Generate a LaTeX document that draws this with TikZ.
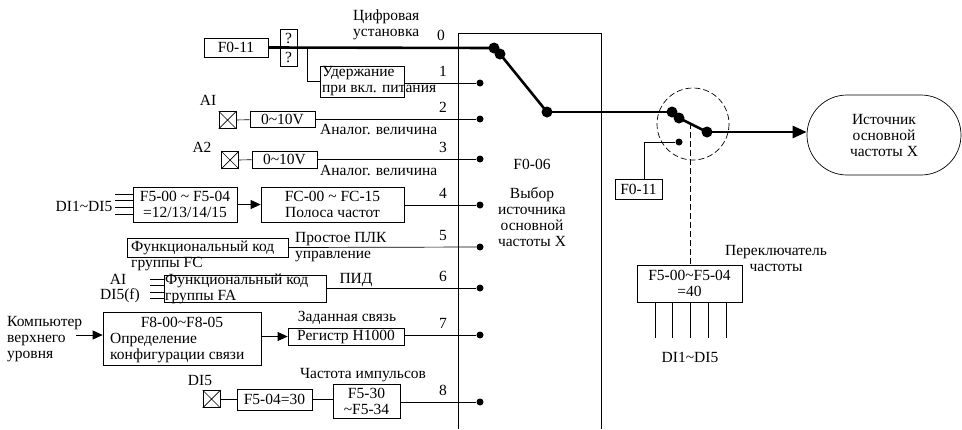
\documentclass[tikz,border=0pt]{standalone}
\usepackage{fontspec}
\setmainfont{Liberation Serif}
\usetikzlibrary{arrows.meta}
\newcommand{\tl}{\textasciitilde}
\begin{document}
\begin{tikzpicture}[x=1pt,y=-1pt,
  every node/.style={font=\fontsize{15.5}{16}\selectfont, inner sep=0pt},
  bx/.style={draw, line width=0.7pt, minimum width=#1},
  ln/.style={line width=0.7pt},
  thk/.style={line width=2.6pt},
  term/.style={circle, fill, minimum size=7pt},
  bigdot/.style={circle, fill, minimum size=11pt},
  cr/.style={draw, line width=0.7pt, minimum width=17pt, minimum height=17pt},
  arr/.style={ln, -{Triangle[length=10pt,width=9pt]}},
  lbl/.style={align=left, anchor=west}
]
\useasboundingbox (0,0) rectangle (962,429);
% main box
\draw[ln] (458,429) -- (458,33) -- (601,33) -- (601,429);
% terminals
\foreach \n/\y in {1/83,2/119,3/159,4/205,5/247,6/288,7/335,8/402}{
  \node[term] (t\n) at (480,\y) {};
  \node at (443,\y-12) {\n};
}
\node at (441,35) {0};
% row 0
\node[bx=64pt, minimum height=19pt] (f011a) at (236,47.5) {F0-11};
\node[bx=17pt, minimum height=19pt] (q1) at (288.5,38.5) {?};
\node[bx=17pt, minimum height=18pt] (q2) at (288.5,57) {?};
\node[lbl] (dig) at (353,25) {Цифровая\\установка};
\node[bigdot] (s0) at (494,48) {};
\node[bigdot] (s0b) at (500,54) {};
\node[bigdot] (s1) at (547,112) {};
\draw[thk] (f011a.east) -- (s0.center);
\draw[thk] (s0b.center) -- (s1.center);
% row 1
\coordinate (br) at (307,48);
\node[bx=84pt, minimum height=31pt] (hold) at (362,81.5) {};
\node[lbl] (holdt) at (322,81.5) {Удержание\\при вкл. питания};
\draw[ln] (br) |- (hold.west);
\draw[ln] (hold.east |- t1) -- (t1);
% row 2
\node at (208,100) (ai1l) {AI};
\node[cr] (ai1) at (227.5,120) {};
\draw[ln] (ai1.north west) -- (ai1.south east) (ai1.north east) -- (ai1.south west);
\node[bx=65pt, minimum height=16pt] (v1) at (282.5,119.5) {0\tl10V};
\draw[ln] (ai1) -- (v1);
\draw[ln] (v1.east |- t2) -- (t2);
\node[lbl] (an1) at (320,129) {Аналог. величина};
% row 3
\node at (202,147) (a2l) {A2};
\node[cr] (ai2) at (230,160) {};
\draw[ln] (ai2.north west) -- (ai2.south east) (ai2.north east) -- (ai2.south west);
\node[bx=65pt, minimum height=17pt] (v2) at (284.5,159.5) {0\tl10V};
\draw[ln] (ai2) -- (v2);
\draw[ln] (v2.east |- t3) -- (t3);
\node[lbl] (an2) at (320,170) {Аналог. величина};
% row 4
\node (di1) at (84,206) {DI1\tl DI5};
\node[bx=104pt, minimum height=35pt, align=center] (f5a) at (185,204.5) {F5-00 \tl\ F5-04\\=12/13/14/15};
\foreach \yy in {194,200,207,214}{\draw[ln] (115,\yy) -- (f5a.west |- 0,\yy);}
\node[bx=143pt, minimum height=35pt, align=center] (fc) at (332.5,204.5) {FC-00 \tl\ FC-15\\Полоса частот};
\draw[arr] (f5a) -- (fc);
\draw[ln] (fc.east |- t4) -- (t4);
% row 5
\node[bx=161pt, minimum height=19pt] (fcb) at (207.5,247.5) {};
\node[lbl] (fcbt) at (131,248) {Функциональный код};
\node[lbl] (fcb2) at (131,264) {группы FC};
\node[lbl] (plc) at (295,247) {Простое ПЛК\\управление};
\draw[ln] (fcb.east) -- (t5);
% row 6
\node (ai3) at (118,279) {AI};
\node (di5f) at (120,296) {DI5(f)};
\node[bx=162pt, minimum height=27pt] (fa) at (245,288.5) {};
\node[lbl] (fat) at (165,289) {Функциональный код\\группы FA};
\foreach \yy in {279,285,292,298}{\draw[ln] (150,\yy) -- (fa.west |- 0,\yy);}
\node (pid) at (356,280) {ПИД};
\draw[ln] (fa.east |- t6) -- (t6);
% row 7
\node[lbl] (pc) at (7,339) {Компьютер\\верхнего\\уровня};
\node[bx=158pt, minimum height=53pt] (f8) at (182,338.5) {};
\node (f8t) at (182,322.5) {F8-00\tl F8-05};
\node[lbl] (f8t2) at (110,348) {Определение\\конфигурации связи};
\coordinate (pcend) at (76,335);
\draw[arr] (pcend) -- (f8.west |- pcend);
\node[bx=116pt, minimum height=17pt] (reg) at (346,336.5) {Регистр H1000};
\draw[arr] (f8.east |- reg) -- (reg.west);
\draw[ln] (reg.east |- t7) -- (t7);
\node (zad) at (347,318) {Заданная связь};
% row 8
\node (di5l) at (200,380) {DI5};
\node[cr] (ai4) at (211.5,399) {};
\draw[ln] (ai4.north west) -- (ai4.south east) (ai4.north east) -- (ai4.south west);
\node[bx=75pt, minimum height=21pt] (f504) at (274.5,399.5) {F5-04=30};
\node[bx=67pt, minimum height=34pt, align=center] (f530) at (366.5,401) {F5-30\\\tl F5-34};
\draw[ln] (ai4) -- (f504.west |- ai4);
\draw[ln] (f504.east) -- (f530.west |- f504.east);
\draw[ln] (f530.east |- t8) -- (t8);
\node (imp) at (363,375) {Частота импульсов};
% box texts
\node (f006) at (532,164) {F0-06};
\node[align=center] (vyb) at (532,217) {Выбор\\источника\\основной\\частоты X};
% second switch
\node[bigdot] (u0) at (672,112) {};
\node[bigdot] (u0b) at (679,118) {};
\node[bigdot] (u1) at (707,132) {};
\node[term] (u2) at (679,142) {};
\draw[thk] (s1.center) -- (u0.center);
\draw[thk] (u0b.center) -- (u1.center);
\draw[ln, dash pattern=on 6pt off 3pt] (693,124) circle (36);
\node[rounded corners=40pt, draw, line width=0.7pt, minimum width=154pt, minimum height=80pt, align=center] (src) at (884,135) {Источник\\основной\\частоты X};
\draw[line width=2.6pt, -{Triangle[length=14pt,width=12pt]}] (u1.center) -- (src.west |- u1);
\node[bx=47pt, minimum height=20pt] (f011b) at (638.5,189.5) {F0-11};
\coordinate (cnr) at (644,142);
\draw[ln] (u2) -- (cnr) -- (cnr |- f011b.north);
\node[bx=105pt, minimum height=37pt, align=center] (f540) at (689.5,283.5) {F5-00\tl F5-04\\=40};
\coordinate (dtop) at (690,123);
\draw[ln, dash pattern=on 6pt off 3pt] (dtop) -- (dtop |- f540.north);
\foreach \xx in {655,672,690,708,726}{\draw[ln] (\xx,302) -- (\xx,338);}
\node (di2) at (690,357) {DI1\tl DI5};
\node[align=center] (pere) at (776,258) {Переключатель\\частоты};
\end{tikzpicture}
\end{document}
